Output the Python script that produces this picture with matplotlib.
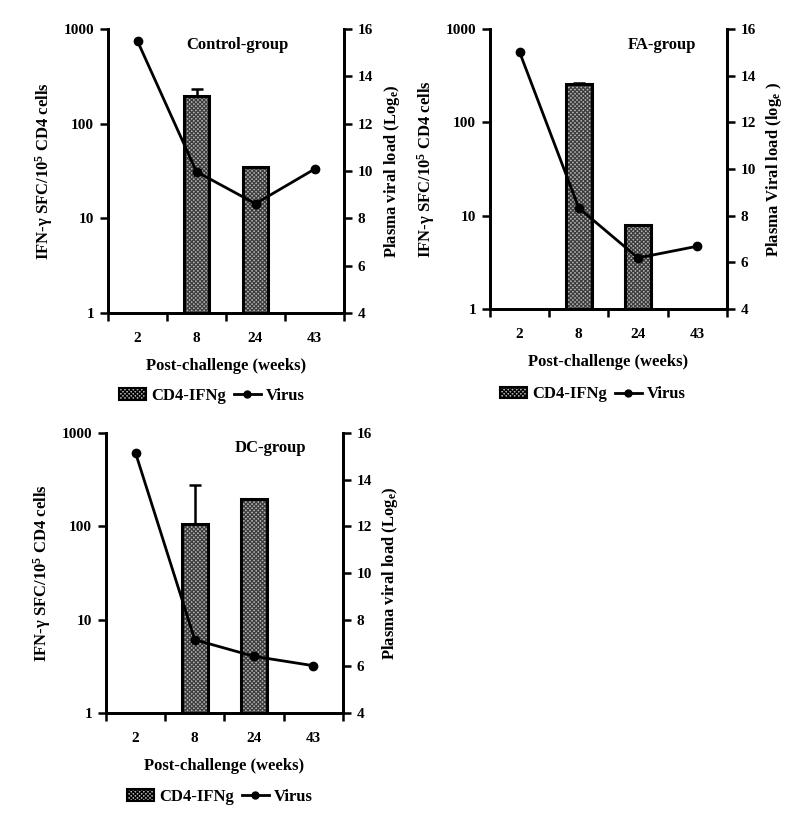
import numpy as np
import matplotlib
matplotlib.use("Agg")
import matplotlib.pyplot as plt
from matplotlib.patches import Patch
from matplotlib.lines import Line2D

plt.rcParams['font.family'] = ['Liberation Serif', 'DejaVu Serif']
plt.rcParams['font.weight'] = 'bold'
plt.rcParams['mathtext.fontset'] = 'custom'
plt.rcParams['mathtext.rm'] = 'Liberation Serif:bold'
plt.rcParams['mathtext.it'] = 'Liberation Serif:bold'
plt.rcParams['mathtext.bf'] = 'Liberation Serif:bold'
plt.rcParams['mathtext.default'] = 'rm'
plt.rcParams['hatch.linewidth'] = 0.9

weeks = ["2", "8", "24", "43"]

ctrl_ifn = [np.nan, 198, 34.6, np.nan]
ctrl_err = [0, 34, 0, 0]
ctrl_virus = [15.49, 9.97, 8.62, 10.08]

fa_ifn = [np.nan, 260, 8.0, np.nan]
fa_err = [0, 3, 0, 0]
fa_virus = [15.01, 8.33, 6.19, 6.69]

dc_ifn = [np.nan, 105, 196, np.nan]
dc_err = [0, 172, 0, 0]
dc_virus = [15.14, 7.14, 6.43, 6.03]

panels = [
    dict(title="Control-group", ifn=ctrl_ifn, err=ctrl_err, virus=ctrl_virus,
         rlabel=r"Plasma viral load (Log$_e$)",
         pos=[0.135, 0.6238, 0.295, 0.3413], tpos=(0.547, 0.944),
         leg=(0.265, 0.524)),
    dict(title="FA-group", ifn=fa_ifn, err=fa_err, virus=fa_virus,
         rlabel=r"Plasma Viral load (log$_e$ )",
         pos=[0.6125, 0.6286, 0.296, 0.3365], tpos=(0.726, 0.943),
         leg=(0.741, 0.526)),
    dict(title="DC-group", ifn=dc_ifn, err=dc_err, virus=dc_virus,
         rlabel=r"Plasma viral load (Log$_e$)",
         pos=[0.1325, 0.143, 0.296, 0.3365], tpos=(0.696, 0.947),
         leg=(0.275, 0.042)),
]

fig = plt.figure(figsize=(8.0, 8.32), dpi=100)
x = np.arange(len(weeks))
bw = 0.43
BAR_FACE = '#b4b4b4'
HATCH_COL = '#3c3c3c'
HATCH = 'xxxxxxxx'

for p in panels:
    ax = fig.add_axes(p['pos'])
    ax.set_yscale('log')
    ax.set_ylim(1, 1000)
    ax.set_xlim(-0.5, len(weeks) - 0.5)
    vals = np.array(p['ifn'], dtype=float)
    err = np.array(p['err'], dtype=float)
    ax.bar(x, vals, width=bw, color=BAR_FACE, edgecolor=HATCH_COL,
           hatch=HATCH, linewidth=0, zorder=2)
    ax.bar(x, vals, width=bw, fill=False, edgecolor='black', linewidth=2.2, zorder=3)
    mask = err > 0
    ax.errorbar(x[mask], vals[mask], yerr=[np.zeros(mask.sum()), err[mask]],
                fmt='none', ecolor='black', elinewidth=1.8, capsize=4.5,
                capthick=1.8, zorder=4)
    ax.yaxis.set_major_locator(matplotlib.ticker.FixedLocator([1, 10, 100, 1000]))
    ax.yaxis.set_major_formatter(matplotlib.ticker.FixedFormatter(['1', '10', '100', '1000']))
    ax.yaxis.set_minor_locator(matplotlib.ticker.NullLocator())
    ax.set_xticks(x)
    ax.set_xticklabels(weeks)
    ax.set_xticks(np.arange(len(weeks) + 1) - 0.5, minor=True)
    ax.tick_params(axis='x', which='major', length=0, pad=14, labelsize=11)
    ax.tick_params(axis='x', which='minor', length=6, width=1.8, direction='out')
    ax.tick_params(axis='y', which='major', length=6, width=1.8, direction='out',
                   pad=4, labelsize=11)
    ax.spines['top'].set_visible(False)
    for s in ['left', 'bottom', 'right']:
        ax.spines[s].set_linewidth(2)
    ax.set_xlabel("Post-challenge (weeks)", fontsize=12, fontweight='bold', labelpad=9)
    ax.set_ylabel(r"IFN-$\gamma$ SFC/10$^5$ CD4 cells", fontsize=12,
                  fontweight='bold', labelpad=6)
    ax.text(p['tpos'][0], p['tpos'][1], p['title'], transform=ax.transAxes,
            ha='center', va='center', fontsize=12, fontweight='bold')

    ax2 = ax.twinx()
    ax2.set_ylim(4, 16)
    ax2.set_yticks(np.arange(4, 17, 2))
    ax2.plot(x, p['virus'], color='black', linewidth=2, marker='o',
             markersize=6, zorder=5)
    ax2.spines['top'].set_visible(False)
    for s in ['left', 'bottom', 'right']:
        ax2.spines[s].set_linewidth(2)
    ax2.tick_params(axis='y', length=6, width=1.8, direction='out', pad=4, labelsize=11)
    ax2.set_ylabel(p['rlabel'], fontsize=12, fontweight='bold', labelpad=6)

    handles = [Patch(facecolor=BAR_FACE, edgecolor='black', hatch=HATCH, linewidth=1.5),
               Line2D([0], [0], color='black', linewidth=2, marker='o', markersize=5)]
    fig.legend(handles, ["CD4-IFNg", "Virus"], loc='center',
               bbox_to_anchor=p['leg'], ncol=2, frameon=False,
               handlelength=1.6, handletextpad=0.3, columnspacing=0.5,
               prop={'weight': 'bold', 'size': 12})

fig.savefig("out.png", dpi=100)
